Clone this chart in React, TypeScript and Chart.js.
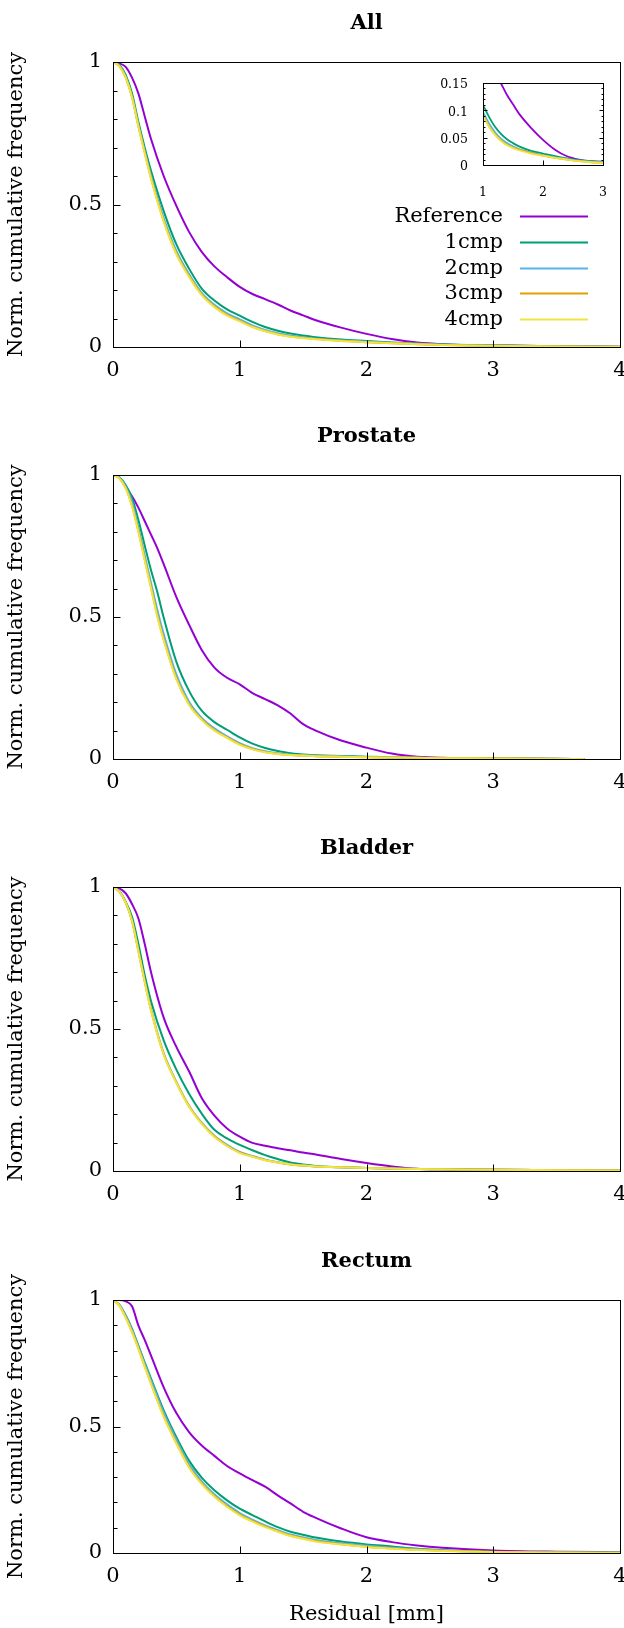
import React, { useEffect, useRef } from "react";
import { Chart, registerables } from "chart.js";

Chart.register(...registerables);

const FONT = "'DejaVu Serif', 'Liberation Serif', serif";

const SERIES_LABELS = ["Reference", "1cmp", "2cmp", "3cmp", "4cmp"];
const SERIES_COLORS = ["#9400D3", "#009E73", "#56B4E9", "#E69F00", "#F0E442"];
const Y_TITLE = "Norm. cumulative frequency";
const X_TITLE = "Residual [mm]";

// ---- All ----
const X_ALL = [0, 0.05, 0.1, 0.15, 0.2, 0.25, 0.3, 0.4, 0.5, 0.6, 0.7, 0.8, 0.9, 1.0, 1.1, 1.2, 1.3, 1.4, 1.5, 1.6, 1.8, 2.0, 2.2, 2.4, 2.6, 2.8, 3.0, 3.5, 4.0];
const ALL_REF = [1, 0.995, 0.983, 0.945, 0.89, 0.81, 0.73, 0.6, 0.495, 0.404, 0.334, 0.283, 0.245, 0.211, 0.186, 0.168, 0.149, 0.128, 0.111, 0.094, 0.068, 0.046, 0.028, 0.016, 0.01, 0.007, 0.006, 0.003, 0.001];
const ALL_1CMP = [1, 0.99, 0.955, 0.89, 0.79, 0.7, 0.618, 0.477, 0.36, 0.275, 0.205, 0.163, 0.132, 0.11, 0.088, 0.07, 0.057, 0.047, 0.04, 0.034, 0.026, 0.021, 0.016, 0.012, 0.009, 0.007, 0.006, 0.003, 0.001];
const ALL_2CMP = [1, 0.987, 0.948, 0.88, 0.78, 0.688, 0.6, 0.452, 0.337, 0.256, 0.19, 0.148, 0.118, 0.097, 0.076, 0.06, 0.048, 0.04, 0.034, 0.029, 0.023, 0.018, 0.014, 0.011, 0.008, 0.006, 0.005, 0.002, 0.001];
const ALL_3CMP = [1, 0.986, 0.946, 0.877, 0.776, 0.683, 0.593, 0.443, 0.328, 0.249, 0.185, 0.143, 0.113, 0.092, 0.071, 0.056, 0.045, 0.037, 0.032, 0.028, 0.022, 0.017, 0.013, 0.01, 0.007, 0.005, 0.004, 0.002, 0.001];
const ALL_4CMP = [1, 0.985, 0.945, 0.875, 0.774, 0.68, 0.59, 0.44, 0.325, 0.246, 0.182, 0.14, 0.11, 0.09, 0.07, 0.055, 0.044, 0.036, 0.031, 0.027, 0.021, 0.017, 0.013, 0.01, 0.007, 0.005, 0.004, 0.002, 0.001];

// ---- Prostate ----
const X_PRO = [0, 0.05, 0.1, 0.15, 0.2, 0.25, 0.3, 0.35, 0.4, 0.5, 0.6, 0.7, 0.8, 0.9, 1.0, 1.1, 1.2, 1.3, 1.4, 1.5, 1.6, 1.8, 2.0, 2.2, 2.4, 2.6, 3.0, 3.4, 3.72];
const PRO_REF = [1, 0.99, 0.958, 0.925, 0.885, 0.838, 0.79, 0.742, 0.686, 0.57, 0.473, 0.384, 0.322, 0.286, 0.263, 0.232, 0.211, 0.189, 0.16, 0.123, 0.1, 0.065, 0.04, 0.019, 0.008, 0.004, 0.002, 0.001, 0.0];
const PRO_1CMP = [1, 0.992, 0.965, 0.92, 0.842, 0.752, 0.665, 0.587, 0.498, 0.342, 0.24, 0.17, 0.13, 0.103, 0.076, 0.054, 0.039, 0.028, 0.02, 0.016, 0.013, 0.011, 0.008, 0.006, 0.004, 0.003, 0.002, 0.001, 0.0];
const PRO_2CMP = [1, 0.99, 0.96, 0.905, 0.815, 0.718, 0.62, 0.525, 0.44, 0.298, 0.202, 0.145, 0.108, 0.08, 0.056, 0.038, 0.027, 0.02, 0.015, 0.013, 0.011, 0.009, 0.007, 0.005, 0.004, 0.003, 0.002, 0.001, 0.0];
const PRO_3CMP = [1, 0.988, 0.954, 0.892, 0.803, 0.704, 0.605, 0.505, 0.422, 0.284, 0.193, 0.139, 0.102, 0.076, 0.052, 0.035, 0.025, 0.018, 0.014, 0.012, 0.01, 0.008, 0.006, 0.005, 0.004, 0.003, 0.002, 0.001, 0.0];
const PRO_4CMP = [1, 0.988, 0.953, 0.89, 0.8, 0.7, 0.6, 0.5, 0.418, 0.28, 0.19, 0.137, 0.1, 0.074, 0.05, 0.034, 0.024, 0.018, 0.014, 0.012, 0.01, 0.008, 0.006, 0.005, 0.004, 0.003, 0.002, 0.001, 0.0];

// ---- Bladder ----
const X_BLA = [0, 0.05, 0.1, 0.15, 0.2, 0.25, 0.3, 0.4, 0.5, 0.6, 0.7, 0.8, 0.9, 1.0, 1.1, 1.2, 1.3, 1.4, 1.5, 1.6, 1.8, 2.0, 2.2, 2.4, 2.6, 3.0, 3.5, 4.0];
const BLA_REF = [1, 0.995, 0.978, 0.94, 0.89, 0.8, 0.7, 0.54, 0.437, 0.351, 0.257, 0.195, 0.15, 0.121, 0.099, 0.089, 0.08, 0.073, 0.065, 0.058, 0.042, 0.028, 0.016, 0.008, 0.006, 0.004, 0.003, 0.002];
const BLA_1CMP = [1, 0.985, 0.948, 0.895, 0.8, 0.69, 0.598, 0.46, 0.357, 0.272, 0.202, 0.145, 0.115, 0.092, 0.073, 0.056, 0.042, 0.03, 0.023, 0.018, 0.013, 0.011, 0.009, 0.007, 0.006, 0.004, 0.003, 0.002];
const BLA_2CMP = [1, 0.985, 0.946, 0.882, 0.778, 0.67, 0.57, 0.415, 0.314, 0.23, 0.17, 0.124, 0.092, 0.067, 0.053, 0.04, 0.031, 0.024, 0.019, 0.016, 0.013, 0.011, 0.009, 0.007, 0.006, 0.004, 0.003, 0.002];
const BLA_3CMP = [1, 0.984, 0.945, 0.881, 0.776, 0.668, 0.567, 0.412, 0.312, 0.228, 0.168, 0.122, 0.089, 0.065, 0.051, 0.039, 0.03, 0.023, 0.019, 0.016, 0.013, 0.011, 0.009, 0.007, 0.006, 0.004, 0.003, 0.002];
const BLA_4CMP = [1, 0.984, 0.945, 0.88, 0.774, 0.666, 0.565, 0.41, 0.31, 0.226, 0.166, 0.12, 0.088, 0.063, 0.05, 0.038, 0.03, 0.023, 0.019, 0.016, 0.013, 0.011, 0.009, 0.007, 0.006, 0.004, 0.003, 0.002];

// ---- Rectum ----
const X_REC = [0, 0.05, 0.1, 0.15, 0.2, 0.25, 0.3, 0.4, 0.5, 0.6, 0.7, 0.8, 0.9, 1.0, 1.1, 1.2, 1.3, 1.4, 1.5, 1.6, 1.8, 2.0, 2.2, 2.4, 2.6, 3.0, 3.5, 4.0];
const REC_REF = [1, 1.0, 0.995, 0.975, 0.9, 0.842, 0.78, 0.655, 0.553, 0.478, 0.425, 0.384, 0.344, 0.315, 0.288, 0.262, 0.228, 0.196, 0.163, 0.139, 0.097, 0.062, 0.043, 0.03, 0.021, 0.01, 0.005, 0.003];
const REC_1CMP = [1, 0.982, 0.94, 0.886, 0.82, 0.754, 0.689, 0.564, 0.458, 0.365, 0.298, 0.248, 0.208, 0.175, 0.15, 0.125, 0.102, 0.084, 0.072, 0.061, 0.045, 0.034, 0.026, 0.017, 0.011, 0.005, 0.003, 0.002];
const REC_2CMP = [1, 0.98, 0.937, 0.882, 0.815, 0.748, 0.682, 0.555, 0.447, 0.352, 0.283, 0.232, 0.192, 0.158, 0.132, 0.109, 0.09, 0.073, 0.062, 0.051, 0.039, 0.029, 0.021, 0.015, 0.01, 0.004, 0.002, 0.001];
const REC_3CMP = [1, 0.978, 0.931, 0.874, 0.809, 0.739, 0.67, 0.541, 0.435, 0.341, 0.275, 0.225, 0.185, 0.152, 0.127, 0.105, 0.086, 0.069, 0.058, 0.047, 0.035, 0.025, 0.018, 0.013, 0.009, 0.004, 0.002, 0.001];
const REC_4CMP = [1, 0.978, 0.93, 0.873, 0.807, 0.737, 0.668, 0.538, 0.432, 0.338, 0.272, 0.222, 0.182, 0.149, 0.124, 0.102, 0.084, 0.067, 0.056, 0.045, 0.034, 0.024, 0.017, 0.012, 0.008, 0.004, 0.002, 0.001];

type PanelDef = {
  title: string;
  x: number[];
  ys: number[][];
  plotTop: number;
  plotH: number;
  bottomH: number;
  xTitle?: string;
  legend?: boolean;
};

const TOP_PAD = 62;

const PANELS: PanelDef[] = [
  { title: "All", x: X_ALL, ys: [ALL_REF, ALL_1CMP, ALL_2CMP, ALL_3CMP, ALL_4CMP], plotTop: 62, plotH: 285, bottomH: 45, legend: true },
  { title: "Prostate", x: X_PRO, ys: [PRO_REF, PRO_1CMP, PRO_2CMP, PRO_3CMP, PRO_4CMP], plotTop: 475, plotH: 284, bottomH: 45 },
  { title: "Bladder", x: X_BLA, ys: [BLA_REF, BLA_1CMP, BLA_2CMP, BLA_3CMP, BLA_4CMP], plotTop: 887, plotH: 284, bottomH: 45 },
  { title: "Rectum", x: X_REC, ys: [REC_REF, REC_1CMP, REC_2CMP, REC_3CMP, REC_4CMP], plotTop: 1300, plotH: 253, bottomH: 75, xTitle: X_TITLE },
];

const INSET = { left: 430, top: 70, width: 194, height: 135 };

function isMultiple(v: number, step: number) {
  const r = v / step;
  return Math.abs(r - Math.round(r)) < 1e-6;
}
function fmt(v: number) {
  return String(Math.round(v * 1000) / 1000);
}

function buildDatasets(x: number[], ys: number[][], width: number) {
  return ys.map((y, i) => ({
    label: SERIES_LABELS[i],
    data: x.map((xv, j) => ({ x: xv, y: y[j] })),
    borderColor: SERIES_COLORS[i],
    backgroundColor: SERIES_COLORS[i],
    borderWidth: width,
    pointRadius: 0,
    pointHoverRadius: 0,
    cubicInterpolationMode: "monotone",
    fill: false,
    order: ys.length - i,
  }));
}

const framePlugin = {
  id: "frame",
  afterDraw(chart: any, _args: any, opts: any) {
    const { ctx, chartArea: a } = chart;
    const xs = chart.scales.x;
    const ys = chart.scales.y;
    ctx.save();
    ctx.strokeStyle = "#000";
    ctx.lineWidth = 1;
    const L = Math.round(a.left) + 0.5;
    const T = Math.round(a.top) + 0.5;
    const R = Math.round(a.right) + 0.5;
    const B = Math.round(a.bottom) + 0.5;
    ctx.beginPath();
    xs.ticks.forEach((t: any) => {
      if (t.value <= xs.min + 1e-9 || t.value >= xs.max - 1e-9) return;
      const px = Math.round(xs.getPixelForValue(t.value)) + 0.5;
      ctx.moveTo(px, B);
      ctx.lineTo(px, B - opts.xTickLen);
    });
    ys.ticks.forEach((t: any) => {
      if (t.value <= ys.min + 1e-9 || t.value >= ys.max - 1e-9) return;
      const len = isMultiple(t.value, opts.yMajorStep) ? opts.yMajorLen : opts.yMinorLen;
      const py = Math.round(ys.getPixelForValue(t.value)) + 0.5;
      ctx.moveTo(L, py);
      ctx.lineTo(L + len, py);
      if (opts.mirrorY) {
        ctx.moveTo(R, py);
        ctx.lineTo(R - len, py);
      }
    });
    ctx.stroke();
    ctx.strokeRect(L, T, R - L, B - T);

    if (opts.title) {
      ctx.fillStyle = "#000";
      ctx.font = `bold 21px ${FONT}`;
      ctx.textAlign = "center";
      ctx.textBaseline = "alphabetic";
      ctx.fillText(opts.title, (a.left + a.right) / 2, a.top - 33);
    }
    if (opts.legend) {
      ctx.font = `21px ${FONT}`;
      ctx.textAlign = "right";
      ctx.textBaseline = "middle";
      chart.data.datasets.forEach((d: any, i: number) => {
        const y = Math.round(a.top + 154 + i * 25.75) + 0.5;
        ctx.fillStyle = "#000";
        ctx.fillText(d.label, 503, y);
        ctx.strokeStyle = d.borderColor;
        ctx.lineWidth = 2;
        ctx.beginPath();
        ctx.moveTo(520, y);
        ctx.lineTo(588, y);
        ctx.stroke();
      });
    }
    ctx.restore();
  },
};

function mainConfig(p: PanelDef): any {
  const h = TOP_PAD + p.plotH + p.bottomH;
  return {
    type: "line",
    data: { datasets: buildDatasets(p.x, p.ys, 2) },
    options: {
      animation: false,
      responsive: false,
      maintainAspectRatio: false,
      events: [],
      layout: { padding: { top: TOP_PAD, right: 4, bottom: 0, left: 0 } },
      plugins: {
        legend: { display: false },
        tooltip: { enabled: false },
        title: { display: false },
        frame: { title: p.title, legend: !!p.legend, xTickLen: 7, yMajorStep: 0.5, yMajorLen: 7, yMinorLen: 4, mirrorY: false },
      },
      scales: {
        x: {
          type: "linear",
          min: 0,
          max: 4,
          position: "bottom",
          grid: { display: false, drawTicks: false },
          border: { display: false },
          ticks: {
            stepSize: 1,
            autoSkip: false,
            maxRotation: 0,
            color: "#000",
            font: { family: FONT, size: 21 },
            padding: 11,
            callback: (v: number) => fmt(v),
          },
          title: {
            display: !!p.xTitle,
            text: p.xTitle || "",
            color: "#000",
            font: { family: FONT, size: 21 },
            padding: { top: 0, bottom: 1 },
          },
          afterFit: (s: any) => {
            s.height = p.bottomH;
            s.paddingLeft = 0;
            s.paddingRight = 0;
          },
        },
        y: {
          type: "linear",
          min: 0,
          max: 1,
          grid: { display: false, drawTicks: false },
          border: { display: false },
          ticks: {
            stepSize: 0.1,
            autoSkip: false,
            color: "#000",
            font: { family: FONT, size: 21 },
            padding: 11,
            callback: (v: number) => (isMultiple(v, 0.5) ? fmt(v) : ""),
          },
          title: {
            display: true,
            text: Y_TITLE,
            color: "#000",
            font: { family: FONT, size: 21 },
            padding: { top: 4, bottom: 0 },
          },
          afterFit: (s: any) => {
            s.width = 113;
            s.paddingTop = 0;
            s.paddingBottom = 0;
          },
        },
      },
    },
    plugins: [framePlugin],
  };
}

function insetConfig(): any {
  const p = PANELS[0];
  return {
    type: "line",
    data: { datasets: buildDatasets(p.x, p.ys, 1.8) },
    options: {
      animation: false,
      responsive: false,
      maintainAspectRatio: false,
      events: [],
      layout: { padding: { top: 13, right: 21, bottom: 0, left: 0 } },
      plugins: {
        legend: { display: false },
        tooltip: { enabled: false },
        title: { display: false },
        frame: { title: "", legend: false, xTickLen: 5, yMajorStep: 0.05, yMajorLen: 4, yMinorLen: 2, mirrorY: true },
      },
      scales: {
        x: {
          type: "linear",
          min: 1,
          max: 3,
          grid: { display: false, drawTicks: false },
          border: { display: false },
          ticks: {
            stepSize: 1,
            autoSkip: false,
            maxRotation: 0,
            color: "#000",
            font: { family: FONT, size: 12.5 },
            padding: 20,
            callback: (v: number) => fmt(v),
          },
          afterFit: (s: any) => {
            s.height = 40;
            s.paddingLeft = 0;
            s.paddingRight = 0;
          },
        },
        y: {
          type: "linear",
          min: 0,
          max: 0.15,
          grid: { display: false, drawTicks: false },
          border: { display: false },
          ticks: {
            stepSize: 0.01,
            autoSkip: false,
            color: "#000",
            font: { family: FONT, size: 12.5 },
            padding: 15,
            labelOffset: 2,
            callback: (v: number) => (isMultiple(v, 0.05) ? fmt(v) : ""),
          },
          afterFit: (s: any) => {
            s.width = 53;
            s.paddingTop = 0;
            s.paddingBottom = 0;
          },
        },
      },
    },
    plugins: [framePlugin],
  };
}

export default function App() {
  const refs = useRef<(HTMLCanvasElement | null)[]>([]);
  const insetRef = useRef<HTMLCanvasElement | null>(null);

  useEffect(() => {
    const charts: Chart[] = [];
    PANELS.forEach((p, i) => {
      const c = refs.current[i];
      if (c) charts.push(new Chart(c, mainConfig(p)));
    });
    if (insetRef.current) charts.push(new Chart(insetRef.current, insetConfig()));
    return () => charts.forEach((c) => c.destroy());
  }, []);

  return (
    <div style={{ position: "absolute", left: 0, top: 0, width: 624, height: 1628, background: "#fff", overflow: "hidden" }}>
      {PANELS.map((p, i) => {
        const top = p.plotTop - TOP_PAD;
        const h = TOP_PAD + p.plotH + p.bottomH;
        return (
          <canvas
            key={i}
            ref={(el) => {
              refs.current[i] = el;
            }}
            width={624}
            height={h}
            style={{ position: "absolute", left: 0, top, width: 624, height: h }}
          />
        );
      })}
      <canvas
        ref={insetRef}
        width={INSET.width}
        height={INSET.height}
        style={{ position: "absolute", left: INSET.left, top: INSET.top, width: INSET.width, height: INSET.height }}
      />
    </div>
  );
}
